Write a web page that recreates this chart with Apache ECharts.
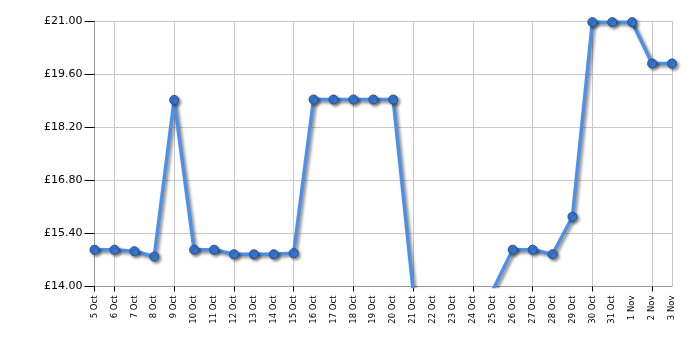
<!DOCTYPE html>
<html><head><meta charset="utf-8">
<script src="https://cdn.jsdelivr.net/npm/echarts@6/dist/echarts.min.js"></script>
<style>html,body{margin:0;padding:0;background:#fff}#c{width:700px;height:350px}</style>
</head><body><div id="c"></div>
<script>
const categories = ["5 Oct","6 Oct","7 Oct","8 Oct","9 Oct","10 Oct","11 Oct","12 Oct","13 Oct","14 Oct","15 Oct","16 Oct","17 Oct","18 Oct","19 Oct","20 Oct","21 Oct","22 Oct","23 Oct","24 Oct","25 Oct","26 Oct","27 Oct","28 Oct","29 Oct","30 Oct","31 Oct","1 Nov","2 Nov","3 Nov"];
const prices = [14.97,14.97,14.93,14.79,18.92,14.97,14.97,14.85,14.85,14.85,14.88,18.93,18.93,18.93,18.93,18.93,13.9,null,null,null,13.9,14.97,14.97,14.85,15.84,20.97,20.97,20.97,19.88,19.88];
const yMin = 14.0, yMax = 21.0, yStep = 1.4;

const chart = echarts.init(document.getElementById('c'), null, {renderer:'canvas'});
chart.setOption({
  animation: false,
  grid: {left: 94.5, right: 28, top: 21, bottom: 63.5, containLabel: false},
  xAxis: {
    type: 'category', data: categories, boundaryGap: false,
    axisLine: {show: true, lineStyle: {color: '#999', width: 1}},
    axisTick: {show: true, length: 5, lineStyle: {color: '#000'}, interval: (i) => i === 0 || i % 3 === 1},
    axisLabel: {rotate: 90, interval: 0, fontSize: 8.5, fontFamily: 'DejaVu Sans', color: '#000', margin: 9},
    splitLine: {show: true, lineStyle: {color: '#c8c8c8', width: 1}, interval: (i) => i % 3 === 1 || i === categories.length - 1}
  },
  yAxis: {
    type: 'value', min: yMin, max: yMax, interval: yStep,
    axisLine: {show: true, lineStyle: {color: '#999', width: 1}},
    axisTick: {show: true, length: 10, lineStyle: {color: '#000'}},
    axisLabel: {fontSize: 11, fontFamily: 'DejaVu Sans', color: '#000', margin: 12,
      formatter: (v) => '£' + v.toFixed(2)},
    splitLine: {show: true, lineStyle: {color: '#c8c8c8', width: 1}}
  },
  series: [{
    type: 'line', data: prices, clip: true, connectNulls: false,
    symbol: 'circle', symbolSize: 9,
    lineStyle: {color: '#4f8fe6', width: 3.5, shadowColor: 'rgba(0,0,0,0.45)', shadowBlur: 3, shadowOffsetX: 2, shadowOffsetY: 2},
    itemStyle: {color: '#3a78d4', borderColor: '#23508f', borderWidth: 1, shadowColor: 'rgba(0,0,0,0.45)', shadowBlur: 3, shadowOffsetX: 2, shadowOffsetY: 2}
  }]
});
</script></body></html>
